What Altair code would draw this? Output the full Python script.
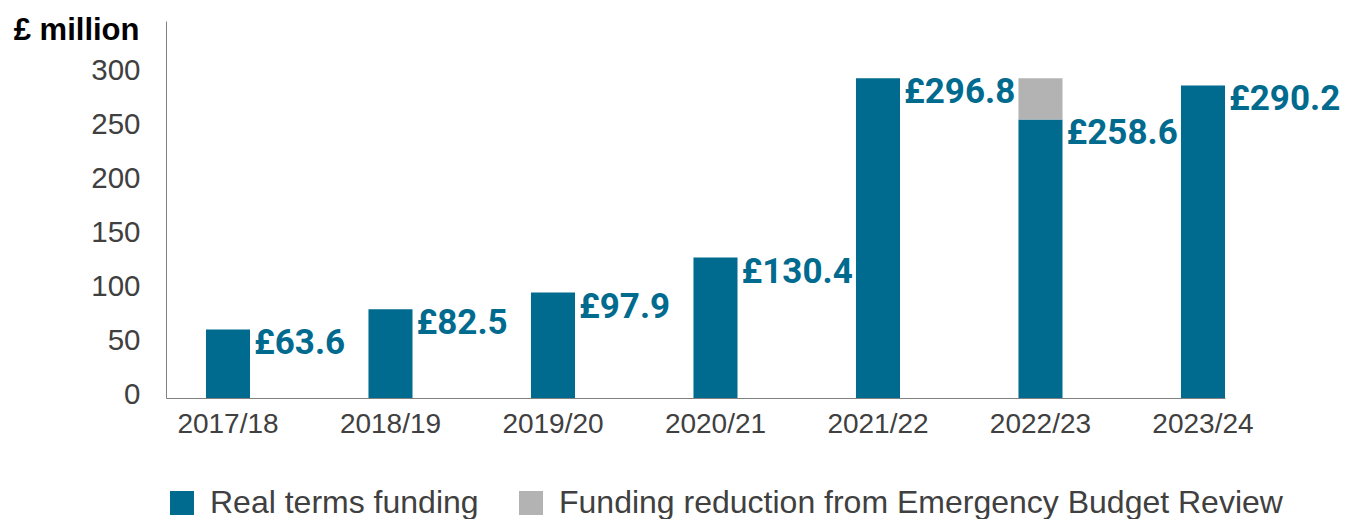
import altair as alt
import pandas as pd

years = ["2017/18", "2018/19", "2019/20", "2020/21", "2021/22", "2022/23", "2023/24"]
real_terms = [63.6, 82.5, 97.9, 130.4, 296.8, 258.6, 290.2]
reduction = [0, 0, 0, 0, 0, 38.2, 0]
labels = ["£63.6", "£82.5", "£97.9", "£130.4", "£296.8", "£258.6", "£290.2"]
series_names = ["Real terms funding", "Funding reduction from Emergency Budget Review"]
colors = ["#006B8E", "#B3B3B3"]

rows = []
for y, r, d in zip(years, real_terms, reduction):
    rows.append({"year": y, "series": series_names[0], "value": r, "ord": 0})
    if d > 0:
        rows.append({"year": y, "series": series_names[1], "value": d, "ord": 1})
df = pd.DataFrame(rows)
lab_df = pd.DataFrame({"year": years, "value": real_terms, "label": labels})

xscale = alt.Scale(domain=years, paddingInner=0.729, paddingOuter=0.123, align=1)
yscale = alt.Scale(domain=[0, 350])

bars = alt.Chart(df).mark_bar().encode(
    x=alt.X("year:N", scale=xscale, sort=years,
            axis=alt.Axis(title=None, labelAngle=0, ticks=False, labelPadding=12,
                          labelFont="Liberation Sans", labelFontSize=28, labelColor="#404040",
                          domainColor="#808080", domainWidth=1)),
    y=alt.Y("value:Q", scale=yscale, stack="zero",
            axis=alt.Axis(values=[0, 50, 100, 150, 200, 250, 300], grid=False, ticks=False,
                          labelPadding=26, labelFont="Liberation Sans", labelFontSize=29.5,
                          labelColor="#404040", labelOffset=-4,
                          domainColor="#808080", domainWidth=1,
                          title="£ million", titleAngle=0, titleAlign="right",
                          titleBaseline="alphabetic", titleX=-27, titleY=18,
                          titleFont="Liberation Sans", titleFontSize=31,
                          titleFontWeight="bold", titleColor="#000000")),
    color=alt.Color("series:N", scale=alt.Scale(domain=series_names, range=colors),
                    legend=alt.Legend(title=None, orient="none", direction="horizontal",
                                      legendX=0, legendY=466, symbolType="square",
                                      symbolSize=576, symbolStrokeWidth=0, labelOffset=12,
                                      columnPadding=36, padding=0,
                                      labelFont="Liberation Sans", labelFontSize=32,
                                      labelColor="#404040", labelLimit=0)),
    order=alt.Order("ord:Q"),
)

text = alt.Chart(lab_df).mark_text(
    align="left", baseline="alphabetic", dx=26, dy=25,
    font="Roboto", fontSize=35, fontWeight="bold", color="#006B8E"
).encode(
    x=alt.X("year:N", scale=xscale, sort=years),
    y=alt.Y("value:Q", scale=yscale),
    text="label:N",
)

chart = alt.layer(bars, text).properties(
    width=1059, height=377,
    autosize=alt.AutoSizeParams(type="none"),
    padding={"left": 158, "top": 13, "right": 120, "bottom": 121},
).configure_view(stroke=None)

chart.save("out.html", embed_options={"renderer": "svg", "actions": False})
